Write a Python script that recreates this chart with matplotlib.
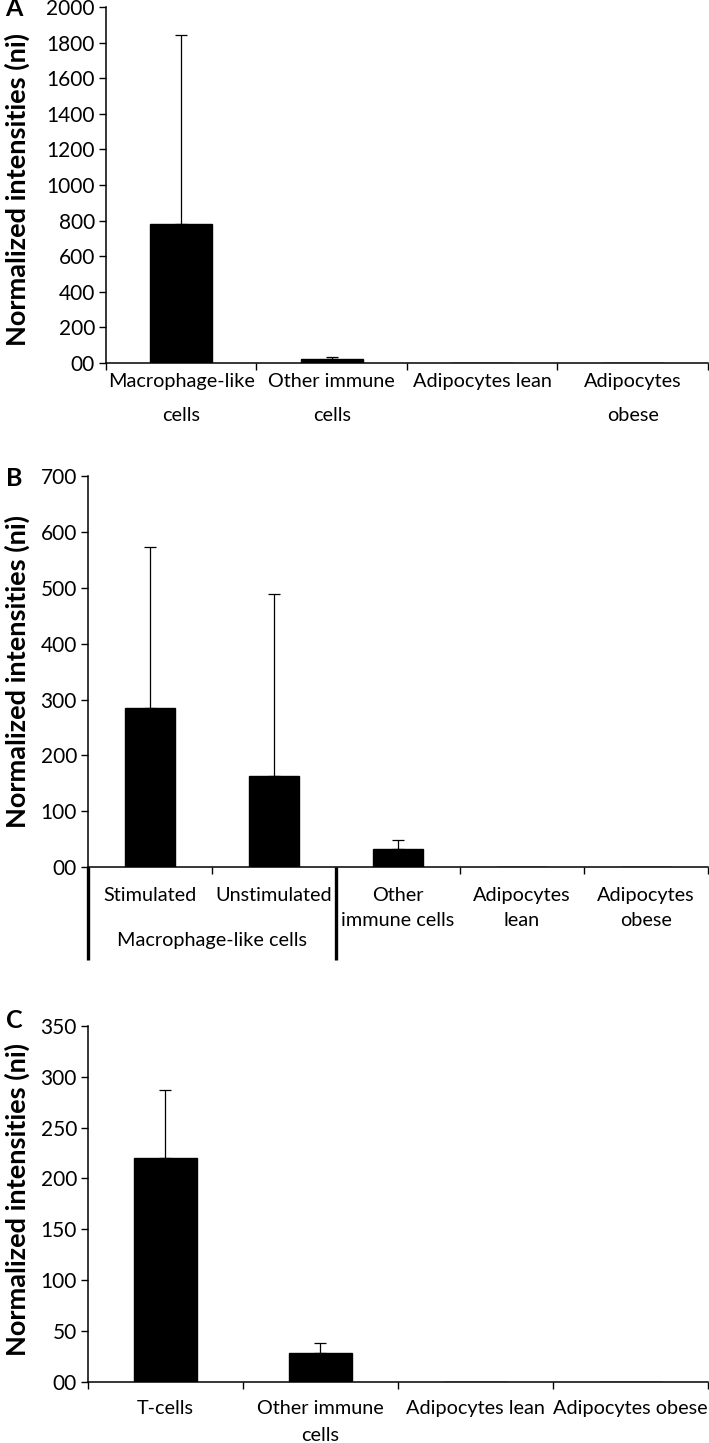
import matplotlib
matplotlib.use("Agg")
import matplotlib.pyplot as plt
import matplotlib.transforms as mtransforms
import numpy as np

plt.rcParams['font.family'] = ['Lato', 'DejaVu Sans']

# panel A
cats_a = ["Macrophage-like\ncells", "Other immune\ncells", "Adipocytes lean", "Adipocytes\nobese"]
vals_a = [780, 25, 0.3, 0.3]
err_a = [1063, 7, 0, 0]
yticks_a = list(range(0, 2001, 200))

# panel B
cats_b = ["Stimulated", "Unstimulated", "Other\nimmune cells", "Adipocytes\nlean", "Adipocytes\nobese"]
vals_b = [285, 164, 32, 0.8, 0.8]
err_b = [288, 324, 16, 0, 0]
yticks_b = list(range(0, 701, 100))
group_b = "Macrophage-like cells"

# panel C
cats_c = ["T-cells", "Other immune\ncells", "Adipocytes lean", "Adipocytes obese"]
vals_c = [220, 28, 0, 0]
err_c = [67, 10, 0, 0]
yticks_c = list(range(0, 351, 50))

ylab = "Normalized intensities (ni)"

fig = plt.figure(figsize=(7.09, 14.43), dpi=100)


def panel(rect, cats, vals, errs, yticks, pad, lsp, xfs):
    ax = fig.add_axes(rect)
    x = np.arange(len(cats))
    ax.bar(x, vals, width=0.41, color='black', edgecolor='black', zorder=2)
    idx = [i for i, e in enumerate(errs) if e > 0]
    ax.errorbar(x[idx], np.array(vals)[idx],
                yerr=[np.zeros(len(idx)), np.array(errs)[idx]],
                fmt='none', ecolor='black', elinewidth=0.9, capsize=4,
                capthick=0.9, zorder=1)
    ax.set_xlim(-0.5, len(cats) - 0.5)
    ax.set_ylim(yticks[0], yticks[-1])
    ax.set_yticks(yticks)
    ax.set_yticklabels(["00"] + [str(t) for t in yticks[1:]])
    ax.set_xticks(np.arange(len(cats) + 1) - 0.5)
    ax.set_xticklabels([])
    ax.set_xticks(x, minor=True)
    ax.set_xticklabels(cats, minor=True, linespacing=lsp)
    ax.tick_params(axis='x', which='minor', length=0, pad=pad, labelsize=xfs)
    ax.tick_params(axis='x', which='major', length=5, width=1, direction='out')
    ax.tick_params(axis='y', length=5, width=1, direction='out', labelsize=15, pad=3)
    for s in ['top', 'right']:
        ax.spines[s].set_visible(False)
    for s in ['left', 'bottom']:
        ax.spines[s].set_linewidth(1.1)
    return ax


ax_a = panel([0.1495, 0.7484, 0.849, 0.2467], cats_a, vals_a, err_a, yticks_a, 7.5, 2.15, 14.3)
ax_b = panel([0.1241, 0.399, 0.8745, 0.2712], cats_b, vals_b, err_b, yticks_b, 14.5, 1.55, 14.3)
ax_c = panel([0.1241, 0.0425, 0.8745, 0.2465], cats_c, vals_c, err_c, yticks_c, 13, 1.7, 14.3)

# bracket for macrophage-like group in B
trans = mtransforms.blended_transform_factory(ax_b.transData, ax_b.transAxes)
for xb in [-0.5, 1.5]:
    ax_b.plot([xb, xb], [0, -0.238], color='black', lw=2.4, transform=trans,
              clip_on=False, solid_capstyle='butt')
ax_b.text(0.5, -0.188, group_b, transform=trans, ha='center', va='center', fontsize=14.3)

# y labels and panel letters
for yc, letter, ly in [(1 - 190 / 1443, "A", 1 - 9 / 1443),
                       (1 - 671 / 1443, "B", 1 - 478 / 1443),
                       (1 - 1200 / 1443, "C", 1 - 1021 / 1443)]:
    fig.text(17 / 709, yc, ylab, rotation=90, ha='center', va='center',
             fontsize=19.5, fontweight='bold')
    fig.text(14 / 709, ly, letter, ha='center', va='center', fontsize=18, fontweight='bold')

fig.savefig("out.png", dpi=100)
